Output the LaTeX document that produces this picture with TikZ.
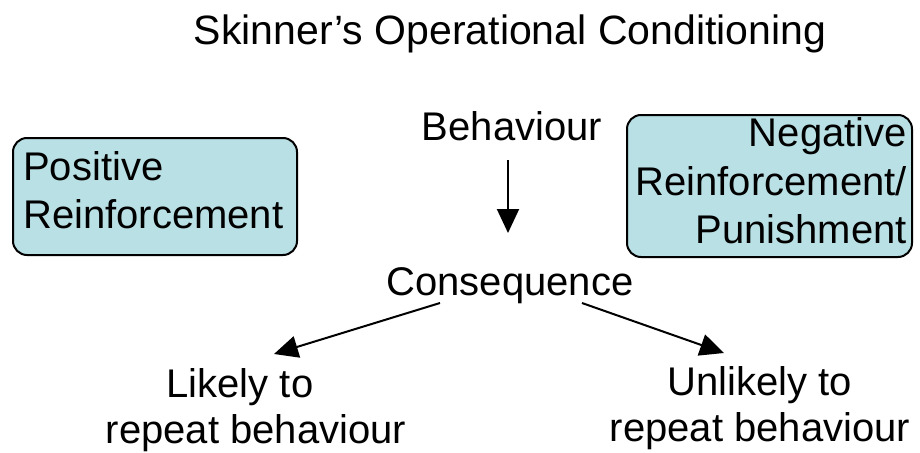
\documentclass[tikz,border=0pt]{standalone}
\usepackage{fontspec}
\setmainfont{Liberation Sans}
\usetikzlibrary{arrows.meta}
\definecolor{boxfill}{RGB}{185,224,228}
\begin{document}
\begin{tikzpicture}[x=1pt,y=-1pt,
  txt/.style={inner sep=0pt, font=\fontsize{40}{48}\selectfont},
  ttl/.style={inner sep=0pt, font=\fontsize{41}{48}\selectfont},
  box/.style={draw=black, line width=2pt, fill=boxfill, rounded corners=14pt, inner sep=0pt},
  arr/.style={line width=2pt, -{Triangle[length=24pt,width=22pt]}}]
\useasboundingbox[fill=white] (0,0) rectangle (920,452);
% title
\node[ttl, anchor=base] (title) at (510,45) {Skinner’s Operational Conditioning};
% boxes
\node[box, minimum width=284pt, minimum height=117pt] (posbox) at (155,196.5) {};
\node[txt, anchor=base west] (pos1) at (23,180) {Positive};
\node[txt, anchor=base west] (pos2) at (23,228) {Reinforcement};
\node[box, minimum width=285pt, minimum height=142pt] (negbox) at (769.5,186) {};
\node[txt, anchor=base east] (neg1) at (907,146) {Negative};
\node[txt, anchor=base east] (neg2) at (907,195) {Reinforcement/};
\node[txt, anchor=base east] (neg3) at (907,243) {Punishment};
% centre
\node[txt, anchor=base] (beh) at (512,140) {Behaviour};
\node[txt, anchor=base] (cons) at (510,295) {Consequence};
\node[txt, anchor=base] (lik1) at (240,397) {Likely to};
\node[txt, anchor=base] (lik2) at (256,443) {repeat behaviour};
\node[txt, anchor=base] (unl1) at (760,395) {Unlikely to};
\node[txt, anchor=base] (unl2) at (760,441) {repeat behaviour};
% arrow ends
\coordinate (a1s) at (508,160);
\coordinate (a1e) at (508,233);
\coordinate (a2s) at (440,303);
\coordinate (a2e) at (274,354);
\coordinate (a3s) at (582,303);
\coordinate (a3e) at (724,353);
\draw[arr] (a1s) -- (a1e);
\draw[arr] (a2s) -- (a2e);
\draw[arr] (a3s) -- (a3e);
\end{tikzpicture}
\end{document}
